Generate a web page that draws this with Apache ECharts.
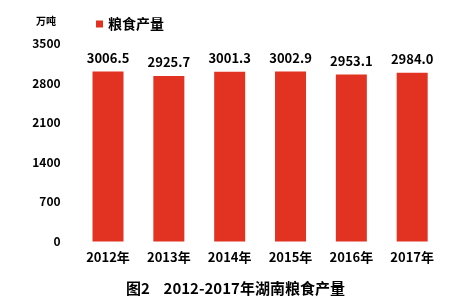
<!DOCTYPE html>
<html><head><meta charset="utf-8">
<script src="https://cdn.jsdelivr.net/npm/echarts@6/dist/echarts.min.js"></script>
<style>html,body{margin:0;padding:0;background:#fff}#c{width:471px;height:305px}</style>
</head><body><div id="c"></div>
<script>
const categories = ['2012年','2013年','2014年','2015年','2016年','2017年'];
const values = [3006.5, 2925.7, 3001.3, 3002.9, 2953.1, 2984.0];
const valueLabels = ['3006.5','2925.7','3001.3','3002.9','2953.1','2984.0'];
const yTicks = [0, 700, 1400, 2100, 2800, 3500];
const seriesName = '粮食产量';
const unitText = '万吨';
const titleText = '图2    2012-2017年湖南粮食产量';

const F = '"Noto Sans CJK SC", sans-serif';
const chart = echarts.init(document.getElementById('c'), null, {renderer:'canvas'});
chart.setOption({
  animation:false,
  backgroundColor:'#fff',
  title:{text:titleText,left:'center',top:276,textStyle:{fontFamily:F,fontWeight:'bold',fontSize:15,color:'#000'}},
  legend:{data:[seriesName],left:91,top:12,icon:'rect',itemWidth:7,itemHeight:7,itemGap:2,
    textStyle:{fontFamily:F,fontWeight:'bold',fontSize:14,color:'#000'}},
  graphic:[{type:'text',left:36,top:16,style:{text:unitText,fontFamily:F,fontWeight:'bold',fontSize:10,fill:'#000'}}],
  grid:{left:77.6,right:28.4,top:43.5,bottom:63.5},
  xAxis:{type:'category',data:categories,axisLine:{show:false},axisTick:{show:false},
    axisLabel:{fontFamily:F,fontWeight:'bold',fontSize:13,color:'#000',margin:9}},
  yAxis:{type:'value',min:yTicks[0],max:yTicks[yTicks.length-1],interval:700,
    splitLine:{show:false},axisLine:{show:false},axisTick:{show:false},
    axisLabel:{fontFamily:F,fontWeight:'bold',fontSize:12,color:'#000',margin:17,formatter:v=>String(v)}},
  series:[{name:seriesName,type:'bar',data:values,barWidth:31,itemStyle:{color:'#e23322'},
    label:{show:true,position:'top',distance:7,fontFamily:F,fontWeight:'bold',fontSize:13,color:'#000',
      formatter:p=>valueLabels[p.dataIndex]}}]
});
</script></body></html>
